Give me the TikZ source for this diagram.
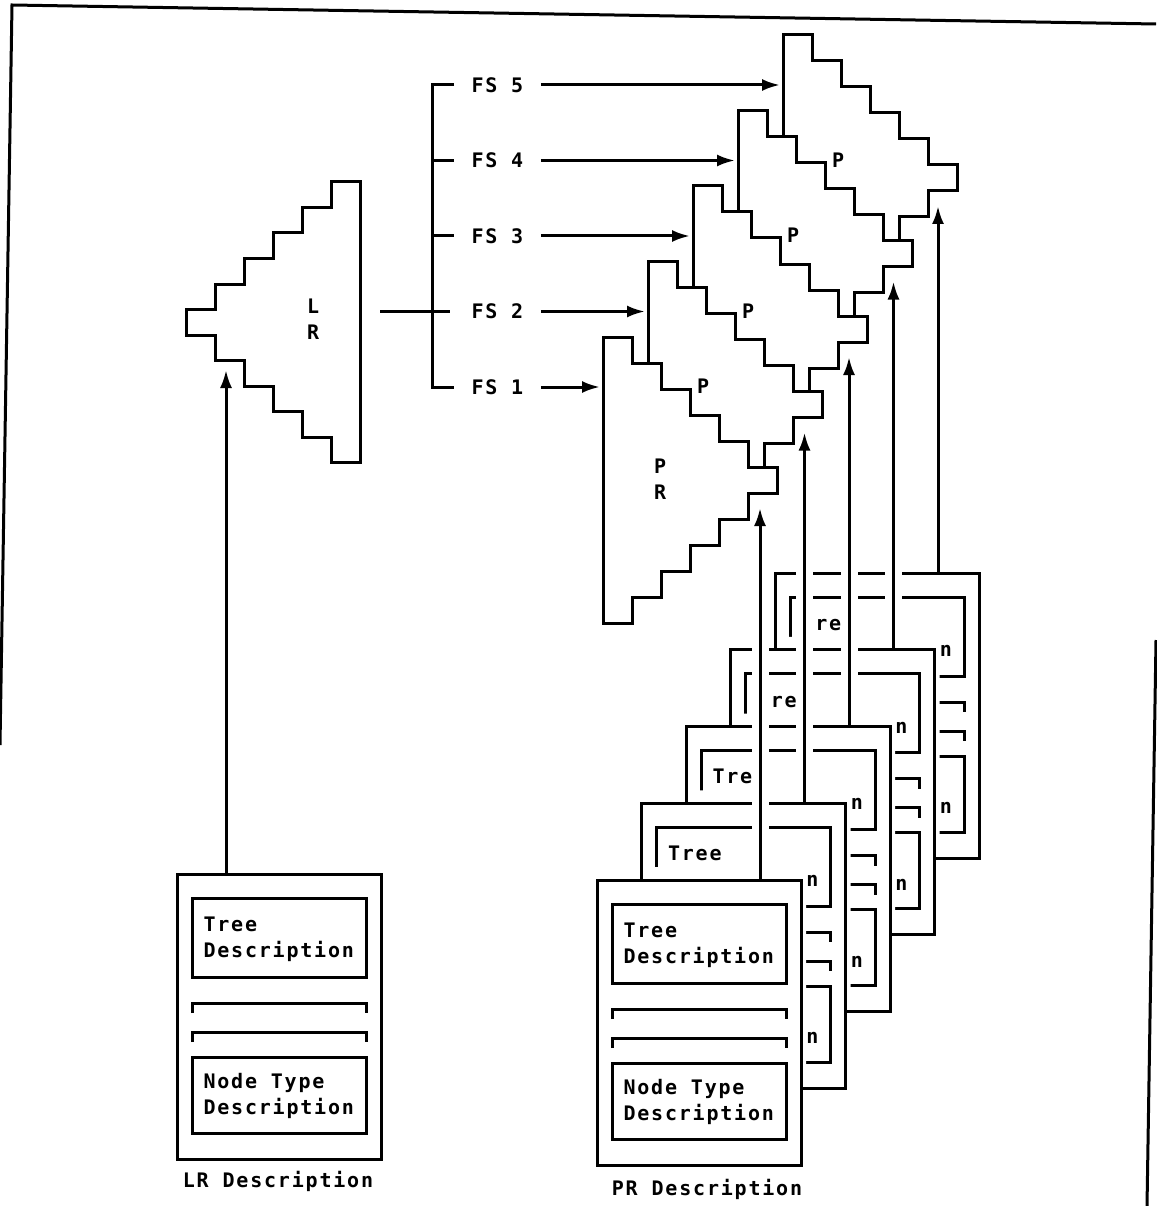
\documentclass[tikz,border=0pt]{standalone}
\usepackage{fontspec}
\newfontfamily\descfont[LetterSpace=9]{DejaVu Sans Mono}
\usetikzlibrary{arrows.meta}
\tikzset{
  desc/.style={font=\descfont\bfseries\fontsize{20}{26}\selectfont,align=left,anchor=west,inner sep=0pt},
  lbl/.style={font=\descfont\bfseries\fontsize{20}{26}\selectfont,align=center,inner sep=0pt},
  halo/.style={preaction={draw=white,line width=17pt,-,shorten <=4pt,shorten >=40pt}},
  treeshape/.pic={
    \draw[fill=white] (0,0) -- (1,0) -- (1,1) -- (2,1) -- (2,2) -- (3,2) -- (3,3) -- (4,3)
      -- (4,4) -- (5,4) -- (5,5) -- (6,5) -- (6,6) -- (5,6) -- (5,7) -- (4,7) -- (4,8)
      -- (3,8) -- (3,9) -- (2,9) -- (2,10) -- (1,10) -- (1,11) -- (0,11) -- cycle;
  }
}
% one description card, origin at its top left corner
\newcommand{\desccard}[1]{%
  \fill[white] (52,-13) rectangle (204,0) (204,-13) rectangle (209,195);
  \draw[fill=white] (0,0) rectangle (204,285);
  \draw (15,24) rectangle (189,103);
  \node[desc] (#1tree) at (25,65) {Tree\\Description};
  \draw (15,139) -- (15,129) -- (189,129) -- (189,139);
  \draw (15,168) -- (15,158) -- (189,158) -- (189,168);
  \draw (15,183) rectangle (189,259);
  \node[desc] (#1type) at (25,222) {Node Type\\Description};
}

\begin{document}
\begin{tikzpicture}[x=1pt,y=-1pt,line width=3pt,line join=miter,>={Latex[length=18pt,width=12pt]}]
	\useasboundingbox (0,0) rectangle (1156,1206);
	% frame of the page
	\draw (0,745) -- (12,5) -- (1156,24);
	\draw (1156,640) -- (1147,1206);
	% LR tree
	\begin{scope}[shift={(360,182)},x=-29pt,y=-25.5pt]
		\pic {treeshape};
		\node[lbl] (lr) at (1.62,5.4) {L\\R};
	\end{scope}
	\coordinate (lrtip) at (226,370);
	\coordinate (lrout) at (380,311.5);
	% LR description
	\begin{scope}[shift={(177,874)}]
		\desccard{lr}
		\coordinate (lrin) at (49,0);
	\end{scope}
	\node[lbl] (lrname) at (278,1181) {LR Description};
	\draw[->] (lrin) -- (lrin |- lrtip);
	% PR trees, back to front
	\foreach \k in {4,...,1} {
		\begin{scope}[shift={(603+45*\k,337-75.5*\k)},x=29pt,y=-26pt]
			\pic {treeshape};
			\node[lbl] (p\k) at (1.9,4.8) {P};
		\end{scope}
	}
	\begin{scope}[shift={(603,337)},x=29pt,y=-26pt]
		\pic {treeshape};
		\node[lbl] (pr) at (1.97,5.46) {P\\R};
	\end{scope}
	% feature sets
	\foreach \k in {1,...,5} {
		\pgfmathsetmacro\fy{387-75.5*(\k-1)}
		\pgfmathsetmacro\fx{603+45*(\k-1)}
		\node[lbl,anchor=west] (fs\k) at (470,\fy) {FS \k};
		\coordinate (b\k) at (432,\fy);
		\coordinate (tr\k) at (\fx-3,\fy);
		\draw[->] ([xshift=16pt]fs\k.east) -- (tr\k);
	}
	\draw ([xshift=22pt]b5) -- (b5) -- (b1) -- ([xshift=22pt]b1);
	\draw (b4) -- ++(22,0) (b3) -- ++(22,0);
	\draw (lrout) -- ([xshift=18pt]b2);
	% PR descriptions, back to front
	\foreach \k in {4,...,0} {
		\begin{scope}[shift={(597+44.5*\k,880-76.7*\k)}]
			\desccard{c\k}
			\coordinate (c\k) at (163,0);
		\end{scope}
		\coordinate (t\k) at (762+45*\k,508-75.5*\k);
	}
	\foreach \k in {0,...,4}
		\draw[->,halo] (c\k) -- (c\k |- t\k);
	\node[lbl] (prname) at (707,1189) {PR Description};
\end{tikzpicture}
\end{document}
